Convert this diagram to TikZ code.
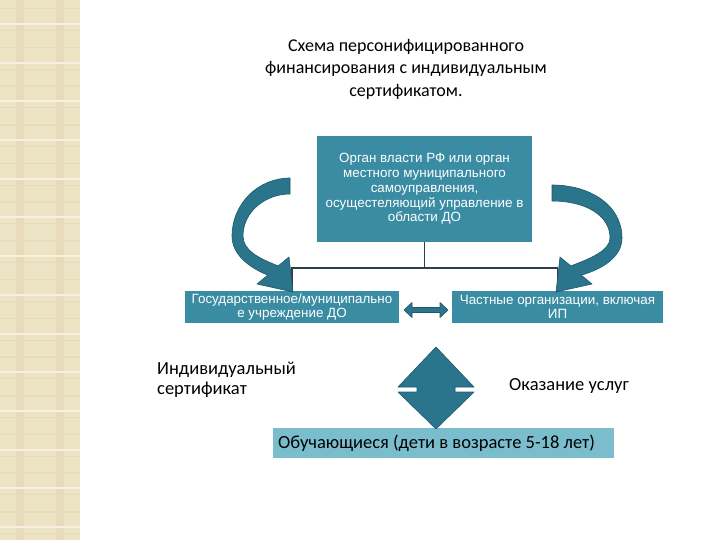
\documentclass[tikz,border=0pt]{standalone}
\usepackage{fontspec}
\setmainfont{Carlito}
\newfontfamily\arialf{Liberation Sans}
\definecolor{boxteal}{RGB}{58,140,163}
\definecolor{arrteal}{RGB}{42,116,140}
\definecolor{arredge}{RGB}{30,88,108}
\definecolor{lightteal}{RGB}{122,190,206}
\definecolor{stripbg}{RGB}{237,227,197}
\definecolor{stripln}{RGB}{247,242,224}
\definecolor{stripdk}{RGB}{231,219,187}
\definecolor{connc}{RGB}{45,62,72}
\begin{document}
\begin{tikzpicture}[x=1pt,y=-1pt,
  tealbox/.style={fill=boxteal, draw=none, text=white, font=\arialf\fontsize{13.4}{14.7}\selectfont, align=center, inner sep=0pt},
  plaintext/.style={font=\fontsize{18.5}{20.5}\selectfont, align=left, inner sep=0pt},
  conn/.style={draw=connc, line width=1.6pt},
  bigarrow/.style={fill=arrteal, draw=arredge, line width=0.6pt, line join=round},
]
\useasboundingbox (0,0) rectangle (720,540);
\fill[white] (0,0) rectangle (720,540);
% decorative strip
\fill[stripbg] (0,0) rectangle (80,540);
\fill[stripdk] (16,0) rectangle (24,540);
\fill[stripdk] (56,0) rectangle (64,540);
\foreach \k in {0,...,13} {
  \fill[stripln] (0,{\k*38.7+23}) rectangle (80,{\k*38.7+25});
  \fill[stripdk] (0,{\k*38.7+8}) rectangle (80,{\k*38.7+9.5});
  \fill[stripdk] (0,{\k*38.7+30}) rectangle (80,{\k*38.7+31});
}

% title
\node[font=\fontsize{18}{22.5}\selectfont, align=center, inner sep=0pt] (title) at (406,69)
  {Схема персонифицированного\\финансирования с индивидуальным\\сертификатом.};

% boxes
\node[tealbox, minimum width=215pt, minimum height=106pt] (top) at (424.5,189)
  {Орган власти РФ или орган\\местного муниципального\\самоуправления,\\осущестеляющий управление в\\области ДО};
\node[tealbox, minimum width=214pt, minimum height=32pt] (lbox) at (292,307)
  {Государственное/муниципально\\е учреждение ДО};
\node[tealbox, minimum width=211pt, minimum height=32pt] (rbox) at (557.5,307)
  {Частные организации, включая\\ИП};
\node[fill=lightteal, minimum width=341pt, minimum height=30pt, inner sep=0pt,
      font=\fontsize{18.5}{20}\selectfont] (learn) at (443.5,443)
  {\makebox[331pt][l]{Обучающиеся (дети в возрасте 5-18 лет)}};

% connectors
\coordinate (junction) at (424.5,268);
\draw[conn] (top.south) -- (junction);
\draw[conn] (lbox.north) |- (junction) -| (rbox.north);

% plain labels
\node[plaintext, anchor=west] (cert) at (157,380) {Индивидуальный\\сертификат};
\node[plaintext, anchor=west] (serv) at (509,386) {Оказание услуг};

% horizontal double arrow
\path[bigarrow] (404,310) -- (412,302.5) -- (412,307.5) -- (440,307.5) -- (440,302.5) -- (448,310)
  -- (440,317.5) -- (440,312.5) -- (412,312.5) -- (412,317.5) -- cycle;

% up-down arrow (diamond)
\path[bigarrow] (436,347) -- (474,387) -- (455,387) -- (455,392) -- (474,392) -- (436,429)
  -- (398,392) -- (417,392) -- (417,387) -- (398,387) -- cycle;

% curved arrows
\path[bigarrow] (290,178) .. controls (258,178) and (232,204) .. (232,236)
  .. controls (232,255) and (250,268) .. (267.8,275.1)
  -- (257,284) -- (293,292) -- (289,257) -- (278.2,265.9)
  .. controls (258,258) and (243,250) .. (243,236)
  .. controls (243,212) and (265,194) .. (290,194) -- cycle;
\path[bigarrow] (552,185) .. controls (590,185) and (622,205) .. (622,238)
  .. controls (622,258) and (600,270) .. (581.2,275.1)
  -- (592,284) -- (556,292) -- (560,257) -- (570.8,265.9)
  .. controls (592,258) and (610,250) .. (610,238)
  .. controls (610,215) and (585,201) .. (552,201) -- cycle;
\end{tikzpicture}
\end{document}
